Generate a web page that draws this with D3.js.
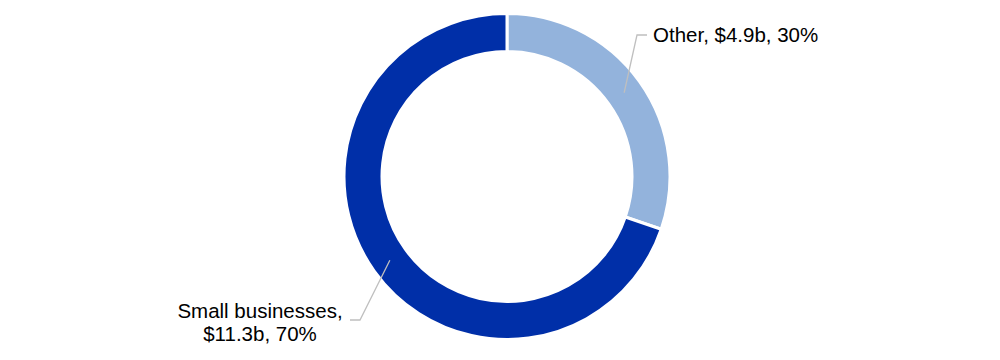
<!DOCTYPE html>
<html><head><meta charset="utf-8">
<script src="https://cdn.jsdelivr.net/npm/d3@7"></script>
<style>html,body{margin:0;padding:0;background:#fff;}svg{display:block;}</style>
</head><body>
<svg id="chart" width="1000" height="360"></svg>
<script>
const categories = ["Other", "Small businesses"];
const values = [4.9, 11.3];
const percents = ["30%", "70%"];
const labelLines = [["Other, $4.9b, 30%"], ["Small businesses,", "$11.3b, 70%"]];
const colors = ["#93B3DC", "#002FA8"];

const svg = d3.select("#chart");
const cx = 507, cy = 176.5, rOuter = 163, rInner = 125;
const g = svg.append("g").attr("transform", `translate(${cx},${cy})`);

const pie = d3.pie().sort(null).value(d => d).startAngle(0).endAngle(2 * Math.PI);
const arcs = pie(values);
const arc = d3.arc().innerRadius(rInner).outerRadius(rOuter);

g.selectAll("path.slice").data(arcs).enter().append("path")
  .attr("class", "slice")
  .attr("d", arc)
  .attr("fill", (d, i) => colors[i])
  .attr("stroke", "#fff")
  .attr("stroke-width", 3);

// label layout (positions relative to centre)
const layout = [
  { elbow: [130, -141.5], end: [140, -141.5], text: [146, -134.5], anchor: "start" },
  { elbow: [-147, 143.5], end: [-157, 143.5], text: [-247, 141.5], anchor: "middle" }
];

arcs.forEach((d, i) => {
  const c = arc.centroid(d);
  const L = layout[i];
  g.append("polyline")
    .attr("points", [c, L.elbow, L.end].map(p => p.join(",")).join(" "))
    .attr("fill", "none")
    .attr("stroke", "#BFBFBF")
    .attr("stroke-width", 1.3);
  const t = g.append("text")
    .attr("x", L.text[0]).attr("y", L.text[1])
    .attr("text-anchor", L.anchor)
    .attr("font-family", "Liberation Sans, Arial, sans-serif")
    .attr("font-size", 20.5)
    .attr("fill", "#000");
  labelLines[i].forEach((line, j) => {
    t.append("tspan").attr("x", L.text[0]).attr("dy", j === 0 ? 0 : 22.5).text(line);
  });
});
</script>
</body></html>
